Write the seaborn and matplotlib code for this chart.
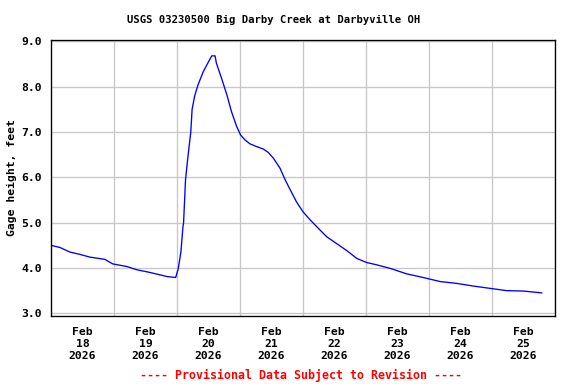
import matplotlib
matplotlib.use("Agg")
import matplotlib.pyplot as plt
import matplotlib.dates as mdates
import seaborn as sns
import pandas as pd

# hours since 2026-02-18 00:00
hours = [0.0, 3.5, 7.25, 11.0, 14.75, 20.5, 23.5, 29.0, 32.75, 37.75, 44.25, 47.5,
         48.5, 49.5, 50.25, 50.5, 51.25, 52.25, 53.25, 53.75, 54.75, 56.0, 58.0, 60.0,
         61.25, 62.5, 63.0, 65.0, 67.0, 68.75, 70.75, 72.25, 74.0, 75.75, 78.25, 81.0,
         82.75, 84.75, 87.25, 89.25, 91.0, 93.5, 96.0, 98.75, 101.75, 105.0, 108.75,
         112.75, 116.5, 120.25, 124.0, 129.25, 135.5, 141.75, 148.25, 154.5, 161.0,
         167.25, 173.5, 180.0, 187.0]
gage = [4.50, 4.45, 4.35, 4.30, 4.24, 4.19, 4.09, 4.03, 3.96, 3.90, 3.81, 3.79,
        3.99, 4.36, 4.90, 4.99, 5.95, 6.50, 7.00, 7.50, 7.80, 8.04, 8.33, 8.55,
        8.68, 8.68, 8.52, 8.18, 7.82, 7.45, 7.12, 6.93, 6.82, 6.74, 6.68, 6.62,
        6.55, 6.42, 6.20, 5.94, 5.74, 5.46, 5.24, 5.06, 4.88, 4.69, 4.54,
        4.38, 4.21, 4.12, 4.07, 3.99, 3.87, 3.79, 3.70, 3.66, 3.60,
        3.55, 3.50, 3.49, 3.45]
yticks = [3.0, 4.0, 5.0, 6.0, 7.0, 8.0, 9.0]
title = "USGS 03230500 Big Darby Creek at Darbyville OH"
ylabel = "Gage height, feet"
footer = "---- Provisional Data Subject to Revision ----"

start = pd.Timestamp("2026-02-18 00:00")
df = pd.DataFrame({"time": start + pd.to_timedelta(hours, unit="h"), "gage": gage})

sns.set_theme(style="white")
plt.rcParams["font.family"] = ["DejaVu Sans Mono"]
plt.rcParams["font.weight"] = "bold"
for k in ["text.color", "axes.labelcolor", "xtick.color", "ytick.color"]:
    plt.rcParams[k] = "black"

fig = plt.figure(figsize=(6, 4), dpi=96)
ax = fig.add_axes([51/576, 1-316/384, 504/576, 276/384])
sns.lineplot(data=df, x="time", y="gage", ax=ax, color="#0000ff", linewidth=1.0)

ax.set_xlim(start, start + pd.Timedelta(days=8))
ax.set_ylim(2.94, 9.03)
ax.set_yticks(yticks)
ax.set_yticklabels([f"{v:.1f}" for v in yticks], fontsize=8.5, fontweight="bold")

ax.xaxis.set_major_locator(mdates.DayLocator())
ax.xaxis.set_major_formatter(plt.NullFormatter())
ax.xaxis.set_minor_locator(mdates.HourLocator(byhour=[12]))
ax.xaxis.set_minor_formatter(mdates.DateFormatter("%b\n%d\n%Y"))
ax.tick_params(axis="x", which="both", length=0, pad=8)
ax.tick_params(axis="x", which="minor", labelsize=8.5)
ax.tick_params(axis="y", length=0, pad=7)

ax.grid(True, which="major", color="#c8c8c8", linewidth=1.0)
ax.set_axisbelow(True)
for s in ax.spines.values():
    s.set_color("black")
    s.set_linewidth(1.0)

ax.set_xlabel("")
ax.set_ylabel(ylabel, fontsize=8.5, fontweight="bold", labelpad=3)
fig.text(273.5/576, 1-20/384, title, ha="center", va="center", fontsize=7.9, fontweight="bold")
fig.text(301/576, 1-375/384, footer, ha="center", va="center", fontsize=8.7,
         fontweight="bold", color="#ff0000")

fig.canvas.draw()
for t in ax.xaxis.get_minorticklabels():
    t.set_fontweight("bold")
    t.set_linespacing(1.25)

fig.savefig("out.png", dpi=96)
